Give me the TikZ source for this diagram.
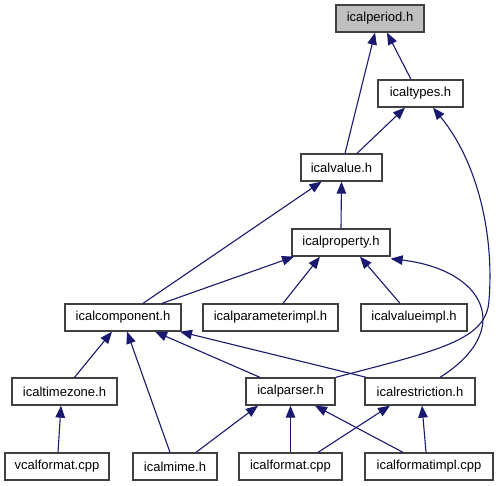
\documentclass[tikz,border=0pt]{standalone}
\usepackage{fontspec}
\setmainfont{Liberation Sans}
\usetikzlibrary{arrows.meta}
\definecolor{edgec}{RGB}{25,25,112}
\definecolor{boxc}{RGB}{64,64,64}
\definecolor{hilite}{RGB}{191,191,191}
\tikzset{
  box/.style={draw=boxc, line width=1.3pt, fill=white, rectangle, inner sep=0pt,
    minimum height=27pt, font=\fontsize{13}{15}\selectfont, text=black},
  edge/.style={draw=edgec, line width=1.1pt, -{Triangle[length=12pt,width=9.5pt]}, shorten >=0pt},
}
\begin{document}
\begin{tikzpicture}[x=1pt,y=-1pt]
\useasboundingbox (0,0) rectangle (501,485);
\fill[white] (0,0) rectangle (501,485);
% nodes
\node[box, fill=hilite, minimum width=88pt] (period) at (380,18.5) {icalperiod.h};
\node[box, minimum width=85pt] (types) at (420.5,93.5) {icaltypes.h};
\node[box, minimum width=81pt] (value) at (341.5,167.5) {icalvalue.h};
\node[box, minimum width=98pt] (property) at (341,242.5) {icalproperty.h};
\node[box, minimum width=116pt] (component) at (123,317.5) {icalcomponent.h};
\node[box, minimum width=135pt] (paramimpl) at (270.5,317.5) {icalparameterimpl.h};
\node[box, minimum width=106pt] (valueimpl) at (414,317.5) {icalvalueimpl.h};
\node[box, minimum width=105pt] (timezone) at (64.5,391.5) {icaltimezone.h};
\node[box, minimum width=89pt] (parser) at (290.5,391.5) {icalparser.h};
\node[box, minimum width=110pt] (restriction) at (420,391.5) {icalrestriction.h};
\node[box, minimum width=104pt] (vcalformat) at (57,466.5) {vcalformat.cpp};
\node[box, minimum width=84pt] (mime) at (175,466.5) {icalmime.h};
\node[box, minimum width=103pt] (format) at (290.5,466.5) {icalformat.cpp};
\node[box, minimum width=128pt] (formatimpl) at (429,466.5) {icalformatimpl.cpp};
% edges
\draw[edge] ([xshift=3.5pt]value.north) -- ([xshift=-5pt]period.south);
\draw[edge] ([xshift=-9.5pt]types.north) -- ([xshift=7pt]period.south);
\draw[edge] ([xshift=15.5pt]value.north) -- ([xshift=-15.5pt]types.south);
\draw[edge] (parser.north east) .. controls (440,350) and (487,340) .. (489,300)
  .. controls (494,240) and (480,165) .. ([xshift=12.5pt]types.south);
\draw[edge] (property.north) -- (value.south);
\draw[edge] ([xshift=20pt]component.north) -- ([xshift=-20pt]value.south);
\draw[edge] ([xshift=39pt]component.north) -- ([xshift=-47pt]property.south);
\draw[edge] ([xshift=12.5pt]paramimpl.north) -- ([xshift=-21pt]property.south);
\draw[edge] ([xshift=-14pt]valueimpl.north) -- ([xshift=19pt]property.south);
\draw[edge] ([xshift=20pt]restriction.north) .. controls (515,330) and (485,270) .. ([yshift=-2pt]property.south east);
\draw[edge] ([xshift=10pt]timezone.north) -- ([xshift=-11pt]component.south);
\draw[edge] ([xshift=-5pt]mime.north) -- ([xshift=4pt]component.south);
\draw[edge] ([xshift=-30.5pt]parser.north) -- ([xshift=32pt]component.south);
\draw[edge] ([xshift=2pt]restriction.north west) -- ([xshift=57pt]component.south);
\draw[edge] ([xshift=1pt]vcalformat.north) -- ([xshift=-3.5pt]timezone.south);
\draw[edge] ([xshift=21pt]mime.north) -- ([xshift=-32.5pt]parser.south);
\draw[edge] (format.north) -- (parser.south);
\draw[edge] ([xshift=-26pt]formatimpl.north) -- ([xshift=24.5pt]parser.south);
\draw[edge] ([xshift=27.5pt]format.north) -- ([xshift=-30pt]restriction.south);
\draw[edge] ([xshift=-3pt]formatimpl.north) -- ([xshift=2pt]restriction.south);
\end{tikzpicture}
\end{document}
